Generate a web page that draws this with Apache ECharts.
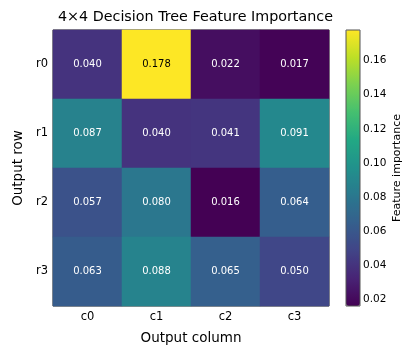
<!DOCTYPE html>
<html><head><meta charset="utf-8">
<script src="https://cdn.jsdelivr.net/npm/echarts@6/dist/echarts.min.js"></script>
<style>html,body{margin:0;padding:0;background:#fff}#c{width:403px;height:346px}</style>
</head><body><div id="c"></div>
<script>
const columns = ['c0', 'c1', 'c2', 'c3'];
const rows = ['r0', 'r1', 'r2', 'r3'];
const r0 = [0.040, 0.178, 0.022, 0.017];
const r1 = [0.087, 0.040, 0.041, 0.091];
const r2 = [0.057, 0.080, 0.016, 0.064];
const r3 = [0.063, 0.088, 0.065, 0.050];
const colorbarTicks = [0.02, 0.04, 0.06, 0.08, 0.10, 0.12, 0.14, 0.16];
const vMin = 0.016, vMax = 0.178;
const viridis = ['#440154','#482475','#414487','#355f8d','#2a788e','#21918c','#22a884','#44bf70','#7ad151','#bddf26','#fde725'];

const matrix = [r0, r1, r2, r3];
const data = [];
matrix.forEach((row, ri) => row.forEach((v, ci) => {
  data.push({value: [ci, ri, v], label: {color: (v - vMin) / (vMax - vMin) > 0.6 ? '#000' : '#fff'}});
}));

const font = 'DejaVu Sans';
const chart = echarts.init(document.getElementById('c'));
chart.setOption({
  animation: false,
  textStyle: {fontFamily: font},
  title: {text: '4×4 Decision Tree Feature Importance', left: 53, top: 5,
    textStyle: {fontFamily: font, fontSize: 14.3, fontWeight: 'normal', color: '#000'}},
  grid: [
    {left: 53, top: 30, width: 276, height: 276, show: true, borderColor: '#222', borderWidth: 1,
      backgroundColor: 'transparent', containLabel: false, outerBoundsMode: 'none'},
    {left: 346, top: 30, width: 14, height: 276, show: true, borderColor: '#555', borderWidth: 1,
      backgroundColor: 'transparent', z: 10, containLabel: false, outerBoundsMode: 'none'}
  ],
  xAxis: [
    {type: 'category', data: columns, gridIndex: 0, position: 'bottom',
      name: 'Output column', nameLocation: 'middle', nameGap: 25,
      nameTextStyle: {fontFamily: font, fontSize: 13.5, color: '#000'},
      axisLine: {show: false}, splitLine: {show: false}, splitArea: {show: false},
      axisTick: {alignWithLabel: true, length: 4, lineStyle: {color: '#000'}},
      axisLabel: {fontFamily: font, fontSize: 11.5, color: '#000', margin: 5}},
    {type: 'value', gridIndex: 1, show: false, min: 0, max: 1}
  ],
  yAxis: [
    {type: 'category', data: rows, gridIndex: 0, inverse: true,
      name: 'Output row', nameLocation: 'middle', nameGap: 23, nameRotate: 90,
      nameTextStyle: {fontFamily: font, fontSize: 13.5, color: '#000'},
      axisLine: {show: false}, splitLine: {show: false}, splitArea: {show: false},
      axisTick: {alignWithLabel: true, length: 4, lineStyle: {color: '#000'}},
      axisLabel: {fontFamily: font, fontSize: 11.5, color: '#000', margin: 5}},
    {type: 'value', gridIndex: 1, position: 'right', min: vMin, max: vMax,
      name: 'Feature importance', nameLocation: 'middle', nameGap: 32, nameRotate: 90,
      nameTextStyle: {fontFamily: font, fontSize: 11, color: '#000'},
      axisLine: {show: false}, splitLine: {show: false},
      axisTick: {show: true, length: 3, lineStyle: {color: '#000'}, customValues: colorbarTicks},
      axisLabel: {fontFamily: font, fontSize: 10.5, color: '#000', margin: 3,
        customValues: colorbarTicks, formatter: v => v.toFixed(2)}}
  ],
  visualMap: {
    type: 'continuous', min: vMin, max: vMax, calculable: false, orient: 'vertical',
    left: 346, top: 30, itemWidth: 14, itemHeight: 276, padding: 0, text: null,
    showLabel: false, seriesIndex: 0,
    inRange: {color: viridis}
  },
  series: [{
    type: 'heatmap', xAxisIndex: 0, yAxisIndex: 0, data: data,
    label: {show: true, fontFamily: font, fontSize: 10, formatter: p => p.value[2].toFixed(3)},
    itemStyle: {borderWidth: 0},
    emphasis: {disabled: true}
  }]
});
</script></body></html>
